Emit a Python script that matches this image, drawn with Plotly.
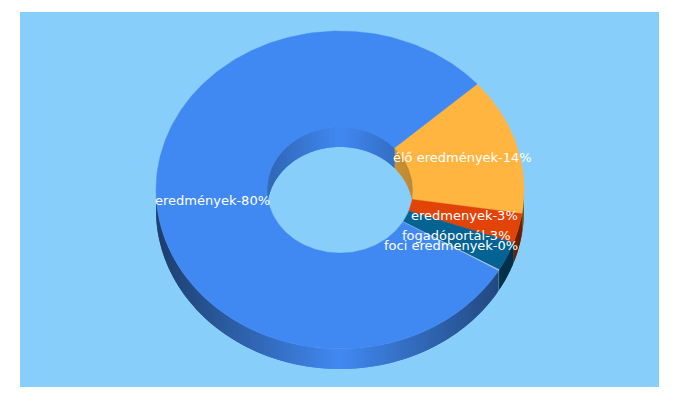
import math
import plotly.graph_objects as go

# slices, clockwise from the start angle
labels = ["élő eredmények", "eredmenyek", "fogadóportál", "foci eredmenyek", "eredmények"]
values = [14, 3, 3, 0.1, 80]
colors = ["#FFB53F", "#E24307", "#046392", "#C8D0D8", "#4189F2"]
label_nudge = [(-1, -1), (0, -1), (0, -1), (0, -1), (0, 0)]

BG = "#87CEFB"
CX, CY = 340, 190
RX, RIN = 184, 73
K = 159 / 184
DEPTH = 20
START = 41.8
STEP = 1.0
OVERLAP = 1.0


def shade(col, f):
    r, g, b = int(col[1:3], 16), int(col[3:5], 16), int(col[5:7], 16)
    return f"rgb({r*f:.0f},{g*f:.0f},{b*f:.0f})"


def pt(r, a, dz=0):
    t = math.radians(a)
    return CX + r * math.cos(t), CY - r * K * math.sin(t) + dz


def poly(xs, ys, col, lw=0.0):
    return go.Scatter(x=xs + xs[:1], y=ys + ys[:1], mode="lines", fill="toself",
                      fillcolor=col, line=dict(color=col, width=lw),
                      hoverinfo="skip", showlegend=False)


def steps(a1, a2):
    n = max(1, math.ceil((a1 - a2) / STEP))
    return [a1 + (a2 - a1) * i / n for i in range(n + 1)]


def wall(r, p, q, col):
    # drawn a little past its end so the next band covers the seam
    grid = [p, (p + q) / 2, q]
    up = [pt(r, g) for g in grid]
    xs = [u[0] for u in up] + [u[0] for u in reversed(up)]
    ys = [u[1] for u in up] + [u[1] + DEPTH for u in reversed(up)]
    return poly(xs, ys, col)


total = sum(values)
spans = []
a = START
for v in values:
    b = a - 360 * v / total
    spans.append((a, b))
    a = b

outer, inner, tops = [], [], []
for (a1, a2), col in zip(spans, colors):
    grid = steps(a1, a2)
    for i, (p, q) in enumerate(zip(grid, grid[1:])):
        m = (p + q) / 2
        c = math.cos(math.radians(m))
        s = math.sin(math.radians(m))
        last = i == len(grid) - 2
        end = q if last else q - OVERLAP
        if s < 0.02:
            outer.append(wall(RX, p, end, shade(col, 1 - 0.55 * abs(c))))
        if s > -0.02:
            inner.append(wall(RIN, p, end, shade(col, 1 - 0.26 * abs(c))))
    xo, yo = zip(*[pt(RX, g) for g in grid])
    xi, yi = zip(*[pt(RIN, g) for g in reversed(grid)])
    tops.append(poly(list(xo) + list(xi), list(yo) + list(yi), col, 0.4))

fig = go.Figure(outer + inner + tops)

for lab, v, (a1, a2), (dx, dy) in zip(labels, values, spans, label_nudge):
    lx, ly = pt((RX + RIN) / 2, (a1 + a2) / 2)
    fig.add_annotation(x=lx + dx, y=ly + dy, xref="x", yref="y", text=f"{lab}-{round(v)}%",
                       showarrow=False, font=dict(family="DejaVu Sans", size=13, color="white"))

fig.update_layout(
    width=680, height=400, autosize=False,
    margin=dict(l=20, r=21, t=12, b=13, pad=0),
    paper_bgcolor="white", plot_bgcolor=BG,
    xaxis=dict(range=[20, 659], visible=False, fixedrange=True),
    yaxis=dict(range=[387, 12], visible=False, fixedrange=True),
    showlegend=False,
)
fig.write_html("out.html", config={"displayModeBar": False},
               post_script="document.body.style.margin='0';")
